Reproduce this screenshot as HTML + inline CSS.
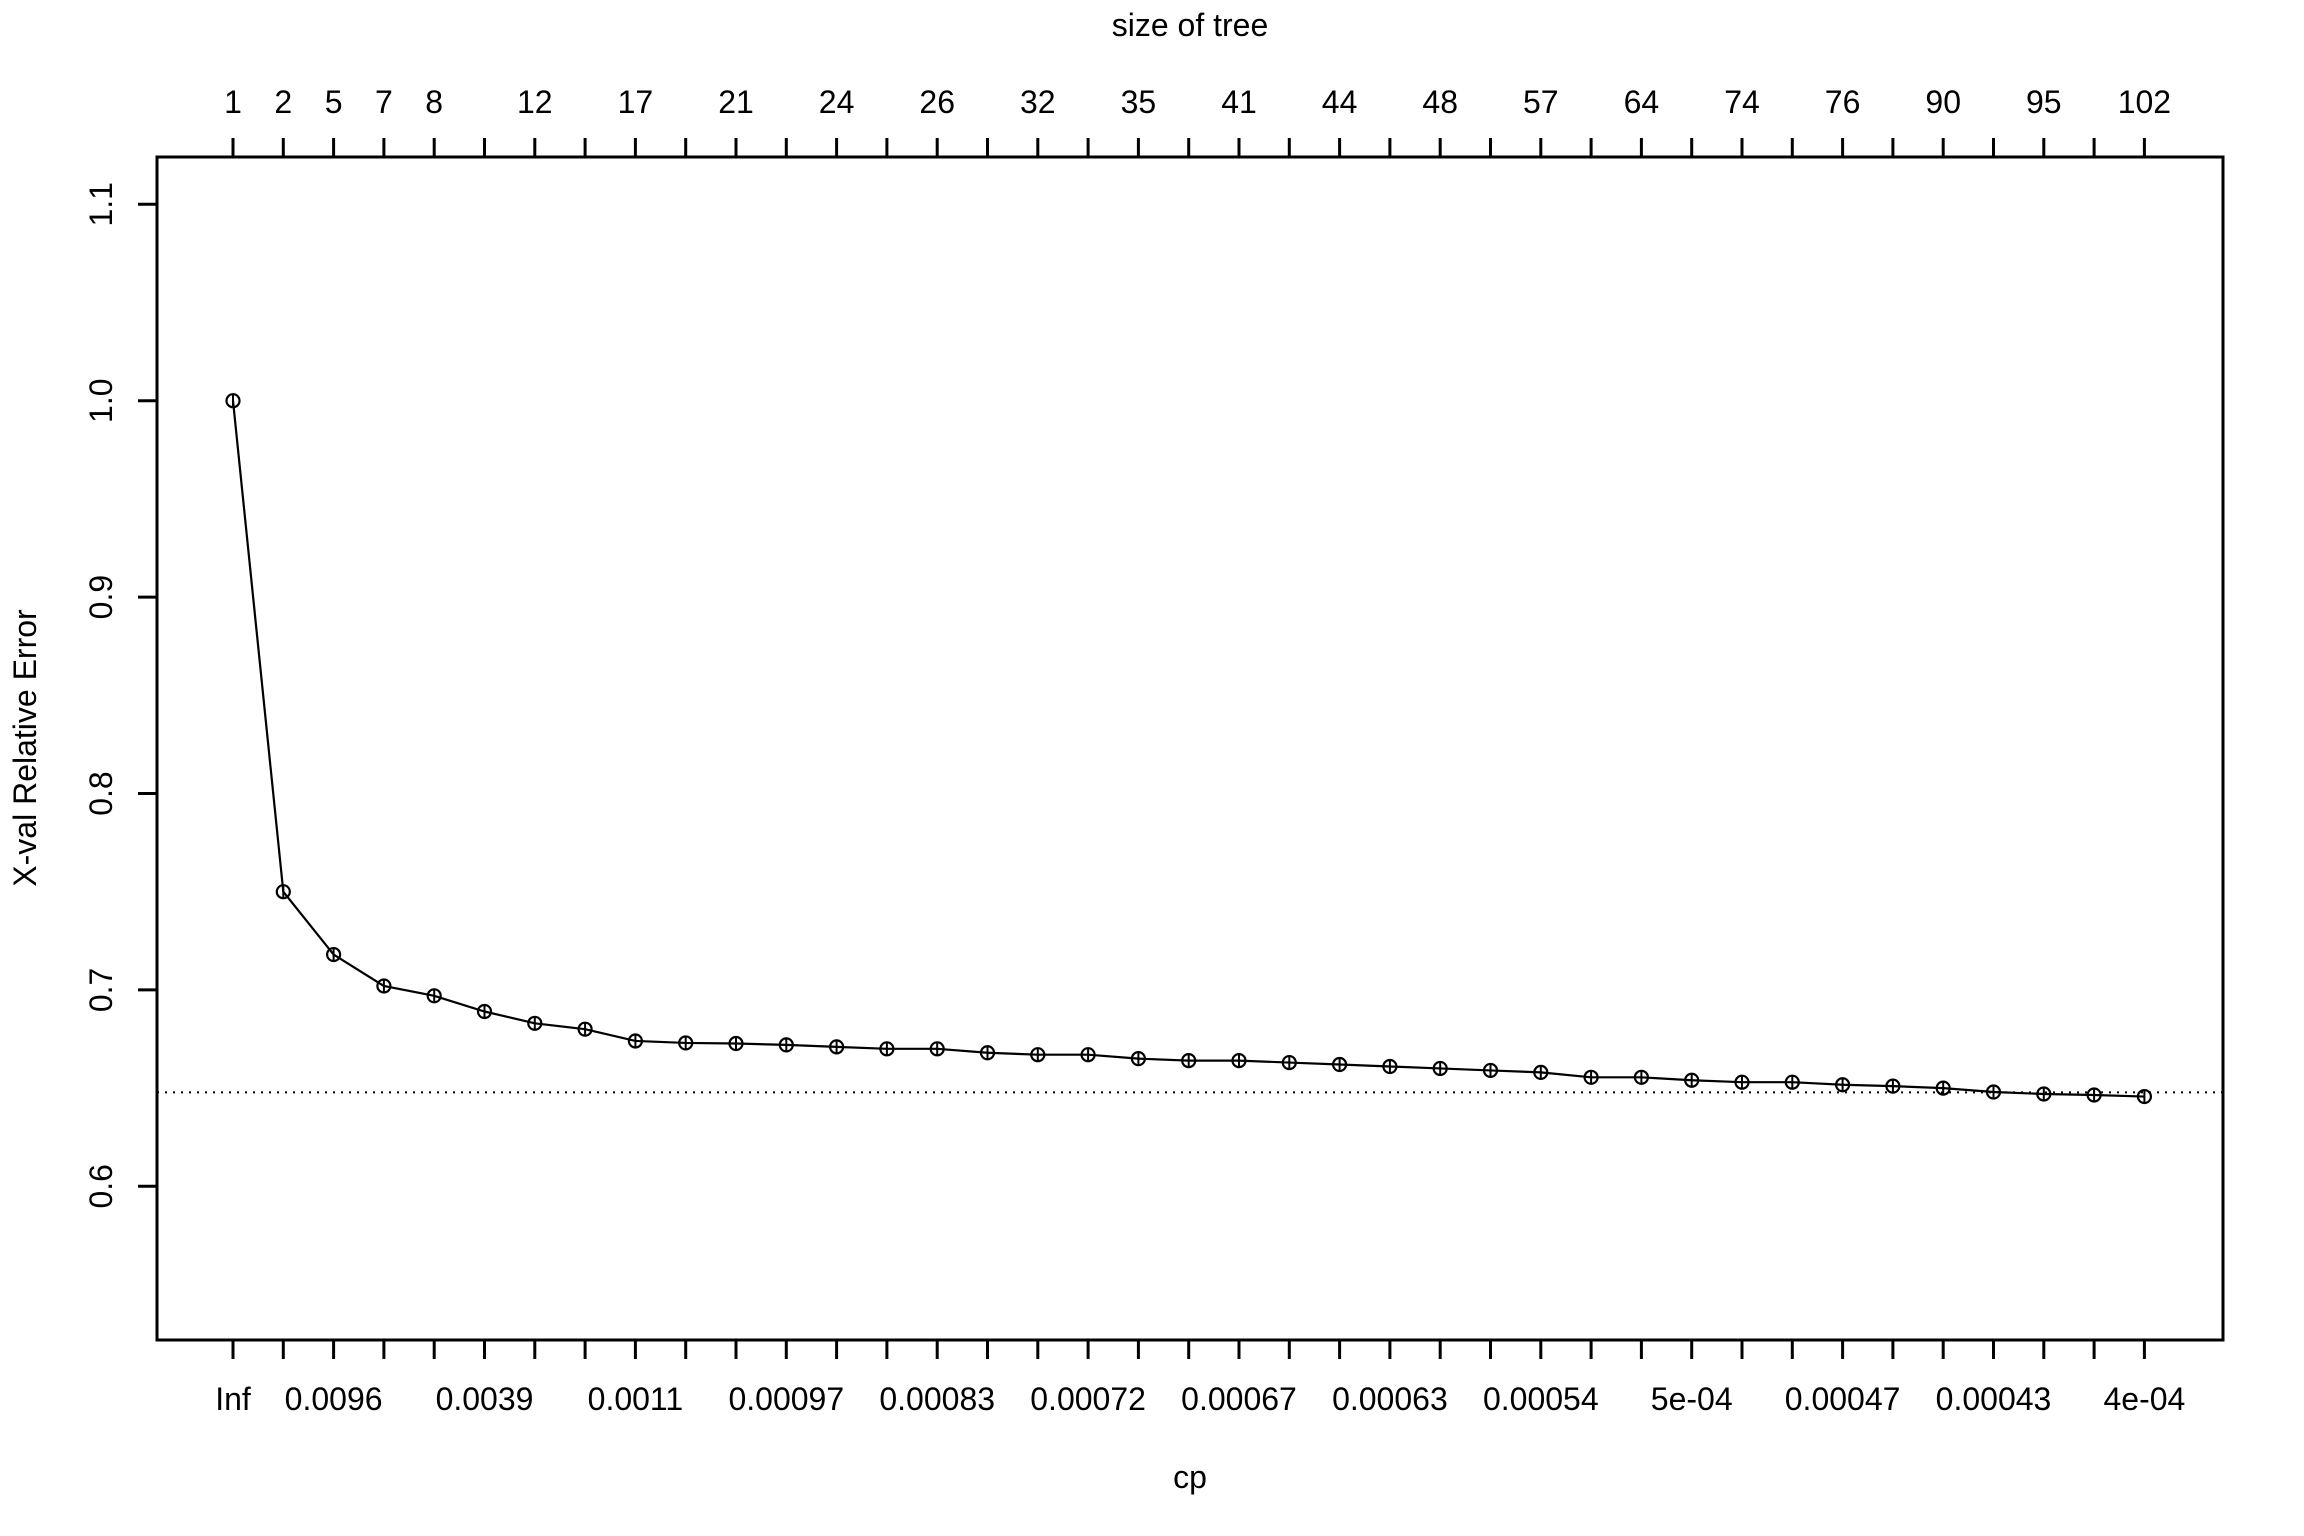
<!DOCTYPE html>
<html><head><meta charset="utf-8"><style>
html,body{margin:0;padding:0;background:#fff}
svg{display:block}
text{font-family:"Liberation Sans",Arial,sans-serif;font-size:32px;fill:#000}
</style></head><body>
<svg id="chart" width="2304" height="1536" viewBox="0 0 2304 1536" xmlns="http://www.w3.org/2000/svg">
<rect x="0" y="0" width="2304" height="1536" fill="#fff"/>
<g id="g"></g>
</svg>
<script>
const sizeLabels = ["1","2","5","7","8","","12","","17","","21","","24","","26","","32","","35","","41","","44","","48","","57","","64","","74","","76","","90","","95","","102"];
const cpLabels = ["Inf","","0.0096","","","0.0039","","","0.0011","","","0.00097","","","0.00083","","","0.00072","","","0.00067","","","0.00063","","","0.00054","","","5e-04","","","0.00047","","","0.00043","","","4e-04"];
const xerror = [1.0,0.750,0.718,0.702,0.697,0.689,0.683,0.680,0.674,0.673,0.6727,0.672,0.671,0.670,0.670,0.668,0.667,0.667,0.665,0.664,0.664,0.663,0.662,0.661,0.660,0.659,0.658,0.6555,0.6555,0.654,0.653,0.653,0.6517,0.651,0.650,0.648,0.647,0.6465,0.6457];
const yTicks = [0.6,0.7,0.8,0.9,1.0,1.1];
const refLine = 0.6478;

const NS="http://www.w3.org/2000/svg";
const g=document.getElementById('g');
const L=157,R=2223,T=157,B=1340;
const x0=233, dx=50.3;
function xs(i){return x0+i*dx;}
function ys(v){return 400.7-(v-1.0)*1964;}
function mk(tag,attrs,parent){const e=document.createElementNS(NS,tag);for(const k in attrs)e.setAttribute(k,attrs[k]);(parent||g).appendChild(e);return e;}

const box=mk('rect',{x:L,y:T,width:R-L,height:B-T,fill:'none',stroke:'#000','stroke-width':3});



for(let i=0;i<xerror.length;i++){
  const t=mk('line',{x1:xs(i),y1:B,x2:xs(i),y2:B+19,stroke:'#000','stroke-width':3});
  
  
  if(cpLabels[i]){
    const tx=mk('text',{x:xs(i),y:1410,'text-anchor':'middle'});tx.textContent=cpLabels[i];
    
    
  }
  const t2=mk('line',{x1:xs(i),y1:T,x2:xs(i),y2:T-19,stroke:'#000','stroke-width':3});
  
  
  if(sizeLabels[i]){
    const tx=mk('text',{x:xs(i),y:113,'text-anchor':'middle'});tx.textContent=sizeLabels[i];
    
    
  }
}
for(const v of yTicks){
  const y=ys(v);
  const t=mk('line',{x1:L,y1:y,x2:L-19,y2:y,stroke:'#000','stroke-width':3});
  
  
  const tx=mk('text',{x:112,y:y,'text-anchor':'middle',transform:`rotate(-90 112 ${y})`});
  tx.textContent=v.toFixed(1);
  
  
}
const rl=mk('line',{x1:L,y1:ys(refLine),x2:R,y2:ys(refLine),stroke:'#000','stroke-width':2,'stroke-dasharray':'2 6'});


const pts=xerror.map((v,i)=>xs(i)+','+ys(v)).join(' ');
const pl=mk('polyline',{points:pts,fill:'none',stroke:'#000','stroke-width':2.2});


for(let i=0;i<xerror.length;i++){
  const cx=xs(i),cy=ys(xerror[i]);
  const c=mk('circle',{cx:cx,cy:cy,r:6.5,fill:'none',stroke:'#000','stroke-width':2.2});
  
  
  const eb=mk('line',{x1:cx,y1:cy-7,x2:cx,y2:cy+7,stroke:'#000','stroke-width':2});
  
  
}
let t=mk('text',{x:1190,y:36,'text-anchor':'middle'});t.textContent='size of tree';


t=mk('text',{x:1190,y:1488,'text-anchor':'middle'});t.textContent='cp';


t=mk('text',{x:36,y:748,'text-anchor':'middle',transform:'rotate(-90 36 748)'});t.textContent='X-val Relative Error';


</script>
</body></html>
